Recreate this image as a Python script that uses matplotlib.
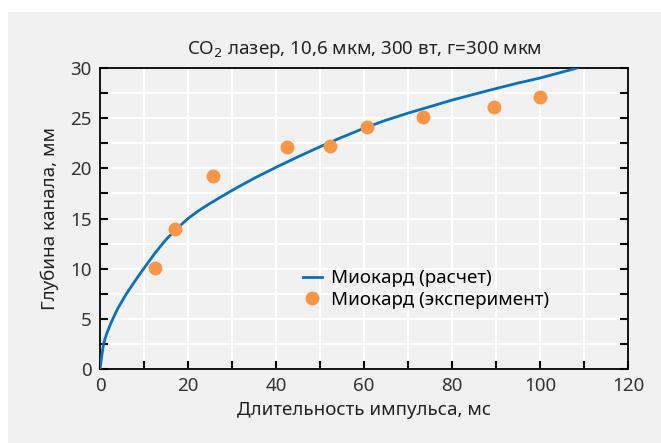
import matplotlib.pyplot as plt
from matplotlib.patches import Rectangle
from matplotlib.ticker import MultipleLocator

plt.rcParams['font.family'] = ['Noto Sans', 'DejaVu Sans']

# computed curve
calc_x = [0, 0.4, 0.8, 1.5, 2.5, 4, 6, 8, 10, 12.5, 15, 17.5, 20, 22.5, 25,
          27.5, 30, 35, 40, 45, 50, 55, 60, 65, 70, 75, 80, 85, 90, 95, 100, 108.5]
calc_y = [0, 1.3, 2.5, 3.5, 4.6, 6.0, 7.5, 8.8, 10.05, 11.55, 12.9, 14.0, 15.0,
          15.8, 16.5, 17.15, 17.8, 19.0, 20.1, 21.15, 22.15, 23.1, 24.0, 24.8,
          25.5, 26.15, 26.8, 27.38, 27.95, 28.5, 29.0, 30.0]

# experiment points
exp_x = [12.5, 17, 25.7, 42.5, 52.3, 60.7, 73.4, 89.5, 100]
exp_y = [10.1, 14.0, 19.2, 22.1, 22.2, 24.1, 25.1, 26.1, 27.1]

fig = plt.figure(figsize=(6.61, 4.43), dpi=100)
fig.patch.set_facecolor('white')
fig.patches.append(Rectangle((8 / 661, 0), 1, 1 - 12 / 443, transform=fig.transFigure,
                             facecolor='#f1f1f1', edgecolor='none', zorder=-1))

ax = fig.add_axes([100 / 661, 74 / 443, 528 / 661, 301 / 443])
ax.set_facecolor('#f1f1f1')

ax.plot(calc_x, calc_y, color='#0a72bd', lw=2.0, label='Миокард (расчет)', zorder=3)
ax.plot(exp_x, exp_y, 'o', color='#f79646', ms=10, mec='none',
        label='Миокард (эксперимент)', zorder=4)

ax.set_xlim(0, 120)
ax.set_ylim(0, 30)
ax.xaxis.set_major_locator(MultipleLocator(20))
ax.xaxis.set_minor_locator(MultipleLocator(10))
ax.yaxis.set_major_locator(MultipleLocator(5))
ax.yaxis.set_minor_locator(MultipleLocator(2.5))
ax.grid(True, which='both', color='white', lw=1.5)
ax.set_axisbelow(True)

ax.tick_params(which='both', direction='in', length=6, width=1.5, color='black',
               left=True, right=True, bottom=True, top=False,
               labelsize=13.5, labelcolor='#333333', pad=6)
for s in ax.spines.values():
    s.set_color('black')
    s.set_linewidth(1.3)

ax.set_xlabel('Длительность импульса, мс', fontsize=13.5, color='#222222', labelpad=4)
ax.set_ylabel('Глубина канала, мм', fontsize=13.5, color='#222222', labelpad=8)
ax.set_title('CO$_2$ лазер, 10,6 мкм, 300 вт, г=300 мкм', fontsize=13.5,
             color='#222222', pad=10)

ax.legend(loc='lower left', bbox_to_anchor=(0.37, 0.175), frameon=False, fontsize=13.5,
          handlelength=1.0, handletextpad=0.5, borderaxespad=0, labelspacing=0.2)

fig.savefig('out.png', dpi=100)
